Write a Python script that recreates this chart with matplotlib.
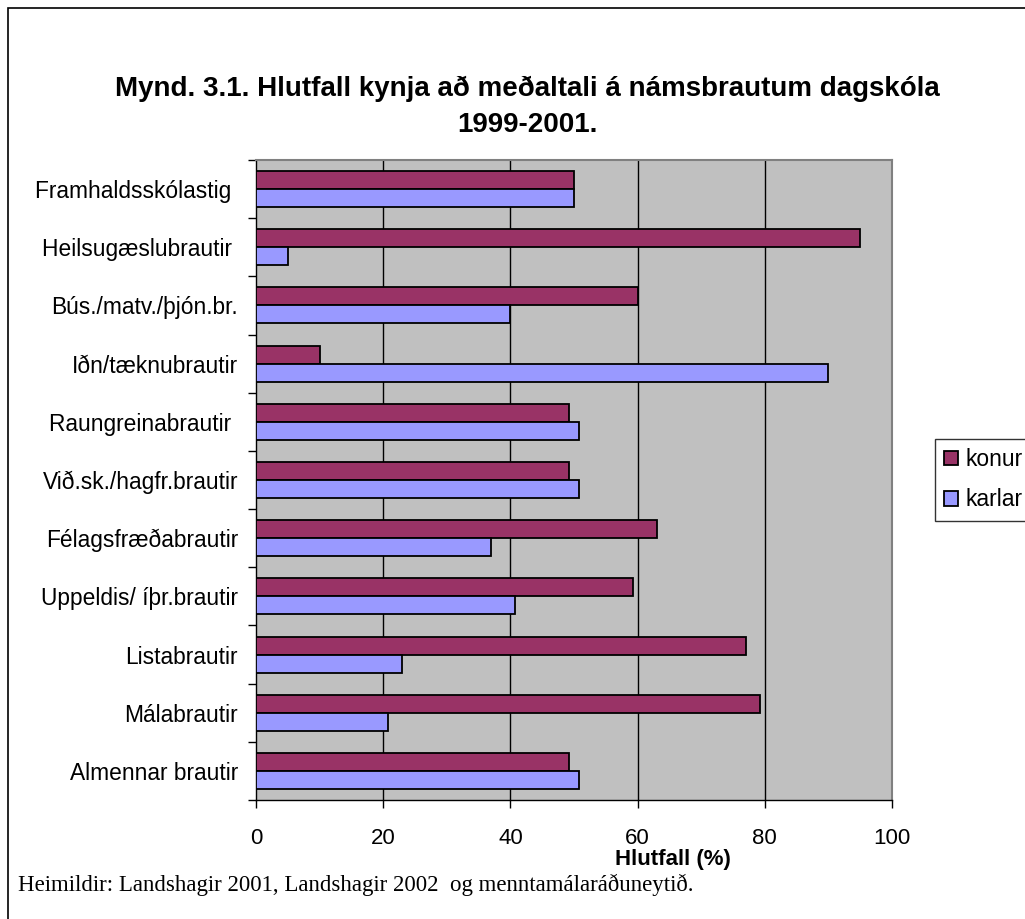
import matplotlib
matplotlib.use("Agg")
import matplotlib.pyplot as plt
import numpy as np
from matplotlib.patches import Rectangle

# Programme names, top to bottom
categories = [
    "Framhaldsskólastig ",
    "Heilsugæslubrautir ",
    "Bús./matv./þjón.br.",
    "Iðn/tæknubrautir",
    "Raungreinabrautir ",
    "Við.sk./hagfr.brautir",
    "Félagsfræðabrautir",
    "Uppeldis/ íþr.brautir",
    "Listabrautir",
    "Málabrautir",
    "Almennar brautir",
]

# Share of each sex (%)
konur = [50, 95, 60, 10, 49.2, 49.2, 63, 59.2, 77.1, 79.2, 49.2]
karlar = [50, 5, 40, 90, 50.8, 50.8, 37, 40.8, 22.9, 20.8, 50.8]

xticks = [0, 20, 40, 60, 80, 100]

title = "Mynd. 3.1. Hlutfall kynja að meðaltali á námsbrautum dagskóla\n1999-2001."
xlabel = "Hlutfall (%)"
source = "Heimildir: Landshagir 2001, Landshagir 2002  og menntamálaráðuneytið."

plt.rcParams['font.family'] = ['Liberation Sans', 'DejaVu Sans']

fig = plt.figure(figsize=(10.25, 9.19), dpi=100)
ax = fig.add_axes([256 / 1025, 1 - 800 / 919, 636 / 1025, 640 / 919])
ax.set_facecolor("#C0C0C0")

y = np.arange(len(categories))
h = 0.31
ax.barh(y - h / 2, konur, height=h, color="#993366", edgecolor="black", linewidth=1.3, label="konur", zorder=3)
ax.barh(y + h / 2, karlar, height=h, color="#9999FF", edgecolor="black", linewidth=1.3, label="karlar", zorder=3)

ax.set_xlim(0, 100)
ax.set_ylim(len(categories) - 0.5, -0.5)
ax.set_xticks(xticks)
ax.set_xticklabels([str(t) for t in xticks], fontsize=16)
ax.set_yticks(y)
ax.set_yticklabels(categories, fontsize=16.4)
ax.set_yticks(np.arange(len(categories) + 1) - 0.5, minor=True)
ax.tick_params(axis="y", which="major", length=0, pad=13)
ax.tick_params(axis="y", which="minor", length=6, direction="out", width=1)
ax.tick_params(axis="x", length=6, direction="out", width=1, pad=14)

for t in xticks[1:-1]:
    ax.axvline(t, color="black", linewidth=1, zorder=1)

for side in ["top", "right"]:
    ax.spines[side].set_color("#808080")
    ax.spines[side].set_linewidth(1.5)
for side in ["left", "bottom"]:
    ax.spines[side].set_color("black")
    ax.spines[side].set_linewidth(1)

fig.text(673 / 1025, 1 - 860 / 919, xlabel, fontsize=16, fontweight="bold", ha="center", va="center")
fig.text(527 / 1025, 1 - 107 / 919, title, fontsize=20, fontweight="bold", ha="center", va="center",
         linespacing=1.5)
fig.text(18 / 1025, 1 - 885 / 919, source, fontsize=16.5, ha="left", va="center",
         family=["Liberation Serif", "DejaVu Serif"])

leg = fig.legend(loc="upper left", bbox_to_anchor=(935 / 1025, 1 - 439 / 919), fontsize=16.5,
                 frameon=True, fancybox=False, edgecolor="black", handlelength=0.6, handleheight=0.6,
                 handletextpad=0.35, borderpad=0.4, labelspacing=0.75, borderaxespad=0)
leg.get_frame().set_linewidth(1)

fig.patches.append(Rectangle((8 / 1025, -0.1), 1.1, 1.1 - 8 / 919, transform=fig.transFigure,
                             fill=False, edgecolor="black", linewidth=1.2))

fig.savefig("out.png", dpi=100)
